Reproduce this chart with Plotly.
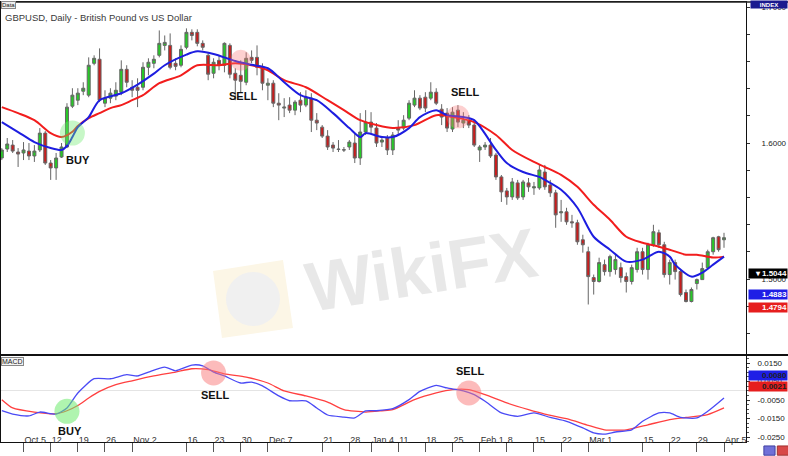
import plotly.graph_objects as go

# GBPUSD daily candles (Sep 29 .. Apr 5), oldest first
opens = [1.5890, 1.5956, 1.5985, 1.5934, 1.5927, 1.5941, 1.5905, 1.5949, 1.6073, 1.5853,
         1.5817, 1.5897, 1.5971, 1.6271, 1.6315, 1.6381, 1.6352, 1.6586, 1.6616, 1.6293,
         1.6330, 1.6345, 1.6374, 1.6542, 1.6410, 1.6410, 1.6410, 1.6557, 1.6586, 1.6645,
         1.6718, 1.6718, 1.6586, 1.6572, 1.6704, 1.6814, 1.6814, 1.6733, 1.6645, 1.6513,
         1.6608, 1.6572, 1.6718, 1.6513, 1.6498, 1.6447, 1.6630, 1.6630, 1.6557, 1.6425,
         1.6440, 1.6293, 1.6257, 1.6279, 1.6242, 1.6315, 1.6279, 1.6330, 1.6168, 1.6117,
         1.6051, 1.5985, 1.5956, 1.5951, 1.5971, 1.6000, 1.5890, 1.6081, 1.6154, 1.6110,
         1.6007, 1.6037, 1.5949, 1.6110, 1.6110, 1.6183, 1.6279, 1.6330, 1.6337, 1.6330,
         1.6374, 1.6249, 1.6220, 1.6103, 1.6242, 1.6147, 1.6168, 1.6132, 1.5949, 1.5971,
         1.5985, 1.5912, 1.5751, 1.5648, 1.5604, 1.5707, 1.5604, 1.5707, 1.5670, 1.5670,
         1.5787, 1.5692, 1.5634, 1.5487, 1.5494, 1.5421, 1.5414, 1.5289, 1.5201, 1.5011,
         1.4982, 1.5106, 1.5055, 1.5070, 1.5084, 1.5018, 1.4982, 1.5070, 1.5201, 1.5070,
         1.5252, 1.5340, 1.5252, 1.5033, 1.5121, 1.5055, 1.4901, 1.4835, 1.4967, 1.4996,
         1.5084, 1.5201, 1.5311, 1.5289]
highs = [1.5963, 1.6037, 1.6022, 1.5963, 1.6007, 1.6000, 1.5985, 1.6110, 1.6088, 1.5875,
         1.5927, 1.6000, 1.6293, 1.6403, 1.6403, 1.6447, 1.6630, 1.6645, 1.6696, 1.6388,
         1.6403, 1.6447, 1.6608, 1.6572, 1.6462, 1.6476, 1.6594, 1.6623, 1.6645, 1.6828,
         1.6791, 1.6806, 1.6623, 1.6718, 1.6843, 1.6836, 1.6836, 1.6755, 1.6667, 1.6623,
         1.6645, 1.6740, 1.6733, 1.6550, 1.6608, 1.6667, 1.6681, 1.6718, 1.6586, 1.6476,
         1.6462, 1.6366, 1.6330, 1.6337, 1.6315, 1.6374, 1.6388, 1.6366, 1.6220, 1.6132,
         1.6095, 1.6007, 1.6022, 1.5971, 1.6022, 1.6073, 1.6220, 1.6242, 1.6227, 1.6147,
         1.6044, 1.6059, 1.6081, 1.6168, 1.6205, 1.6315, 1.6388, 1.6352, 1.6374, 1.6447,
         1.6403, 1.6286, 1.6257, 1.6264, 1.6279, 1.6227, 1.6205, 1.6154, 1.5985, 1.6007,
         1.6037, 1.5927, 1.5765, 1.5670, 1.5743, 1.5729, 1.5729, 1.5743, 1.5714, 1.5839,
         1.5839, 1.5729, 1.5656, 1.5582, 1.5524, 1.5472, 1.5436, 1.5326, 1.5238, 1.5033,
         1.5157, 1.5143, 1.5179, 1.5179, 1.5121, 1.5048, 1.5106, 1.5230, 1.5230, 1.5267,
         1.5399, 1.5363, 1.5274, 1.5143, 1.5143, 1.5070, 1.4923, 1.4938, 1.5004, 1.5121,
         1.5216, 1.5311, 1.5318, 1.5340]
lows = [1.5875, 1.5934, 1.5927, 1.5824, 1.5875, 1.5875, 1.5861, 1.5934, 1.5839, 1.5729,
        1.5729, 1.5890, 1.5963, 1.6257, 1.6279, 1.6352, 1.6337, 1.6572, 1.6301, 1.6264,
        1.6293, 1.6315, 1.6352, 1.6410, 1.6337, 1.6264, 1.6388, 1.6498, 1.6550, 1.6630,
        1.6681, 1.6542, 1.6535, 1.6557, 1.6689, 1.6755, 1.6711, 1.6681, 1.6462, 1.6476,
        1.6535, 1.6520, 1.6476, 1.6315, 1.6374, 1.6425, 1.6586, 1.6498, 1.6388, 1.6315,
        1.6264, 1.6168, 1.6191, 1.6220, 1.6205, 1.6227, 1.6264, 1.6081, 1.6095, 1.6037,
        1.5949, 1.5934, 1.5934, 1.5934, 1.5949, 1.5853, 1.5839, 1.6059, 1.6073, 1.5971,
        1.5971, 1.5912, 1.5912, 1.6059, 1.6095, 1.6168, 1.6264, 1.6242, 1.6227, 1.6315,
        1.6279, 1.6132, 1.6081, 1.6081, 1.6117, 1.6110, 1.6110, 1.5971, 1.5861, 1.5949,
        1.5890, 1.5729, 1.5567, 1.5546, 1.5582, 1.5582, 1.5582, 1.5641, 1.5619, 1.5656,
        1.5656, 1.5604, 1.5377, 1.5421, 1.5399, 1.5377, 1.5252, 1.5194, 1.4813, 1.4886,
        1.4974, 1.5026, 1.5018, 1.5033, 1.4974, 1.4901, 1.4960, 1.5048, 1.5033, 1.4996,
        1.5238, 1.5230, 1.5011, 1.4960, 1.4996, 1.4872, 1.4828, 1.4828, 1.4923, 1.4996,
        1.5070, 1.5179, 1.5201, 1.5230]
closes = [1.5949, 1.5993, 1.5941, 1.5919, 1.5949, 1.5905, 1.5941, 1.6073, 1.5853, 1.5817,
          1.5890, 1.5971, 1.6264, 1.6352, 1.6367, 1.6403, 1.6572, 1.6623, 1.6315, 1.6330,
          1.6367, 1.6388, 1.6542, 1.6447, 1.6388, 1.6388, 1.6557, 1.6594, 1.6616, 1.6733,
          1.6740, 1.6557, 1.6564, 1.6689, 1.6814, 1.6791, 1.6733, 1.6704, 1.6506, 1.6594,
          1.6572, 1.6733, 1.6506, 1.6462, 1.6454, 1.6623, 1.6608, 1.6557, 1.6440, 1.6440,
          1.6293, 1.6279, 1.6264, 1.6242, 1.6301, 1.6279, 1.6337, 1.6168, 1.6147, 1.6051,
          1.5971, 1.5963, 1.5953, 1.5949, 1.6007, 1.5890, 1.6081, 1.6154, 1.6117, 1.6000,
          1.6022, 1.5949, 1.6059, 1.6095, 1.6168, 1.6293, 1.6330, 1.6257, 1.6257, 1.6374,
          1.6293, 1.6191, 1.6110, 1.6227, 1.6154, 1.6168, 1.6132, 1.5985, 1.5971, 1.5985,
          1.5905, 1.5751, 1.5641, 1.5604, 1.5714, 1.5597, 1.5714, 1.5678, 1.5678, 1.5802,
          1.5678, 1.5634, 1.5472, 1.5494, 1.5421, 1.5414, 1.5274, 1.5252, 1.5018, 1.4982,
          1.5121, 1.5055, 1.5165, 1.5143, 1.5011, 1.4982, 1.5084, 1.5201, 1.5070, 1.5252,
          1.5348, 1.5252, 1.5033, 1.5121, 1.5055, 1.4886, 1.4835, 1.4923, 1.4996, 1.5077,
          1.5201, 1.5304, 1.5216, 1.5304]

# moving averages (fast = blue, slow = red), sampled along the chart
ma_fast_day = [0, 3, 6, 9, 11, 12, 13, 14, 16, 18, 22, 25, 28, 30, 34, 36, 39, 43, 46, 49,
               52, 55, 58, 61, 64, 66, 67, 70, 72, 75, 77, 80, 82, 85, 87, 91, 93, 96, 99, 100,
               103, 106, 109, 112, 115, 118, 121, 123, 124, 127, 129, 131, 133]
ma_fast = [1.6154, 1.6081, 1.6007, 1.5963, 1.5949, 1.5978, 1.6044, 1.6117, 1.6191, 1.6315,
           1.6366, 1.6430, 1.6510, 1.6572, 1.6650, 1.6674, 1.6655, 1.6603, 1.6575, 1.6550,
           1.6447, 1.6352, 1.6315, 1.6220, 1.6110, 1.6044, 1.6073, 1.6044, 1.6044, 1.6110,
           1.6191, 1.6242, 1.6205, 1.6191, 1.6168, 1.5949, 1.5853, 1.5787, 1.5751, 1.5729,
           1.5656, 1.5524, 1.5311, 1.5216, 1.5128, 1.5143, 1.5201, 1.5165, 1.5106, 1.5018,
           1.5048, 1.5106, 1.5165]
ma_slow_day = [0, 3, 6, 9, 11, 13, 14, 16, 18, 20, 22, 24, 26, 29, 33, 36, 40, 43, 46, 49,
               52, 56, 60, 63, 66, 69, 72, 76, 80, 83, 87, 91, 94, 98, 100, 103, 106, 109, 112, 115,
               118, 121, 123, 126, 128, 131, 133]
ma_slow = [1.6264, 1.6220, 1.6168, 1.6073, 1.6044, 1.6083, 1.6125, 1.6183, 1.6220, 1.6257,
           1.6279, 1.6315, 1.6352, 1.6440, 1.6498, 1.6572, 1.6572, 1.6586, 1.6572, 1.6535,
           1.6462, 1.6410, 1.6315, 1.6242, 1.6168, 1.6132, 1.6110, 1.6132, 1.6205, 1.6191,
           1.6154, 1.6059, 1.5949, 1.5861, 1.5824, 1.5766, 1.5678, 1.5546, 1.5436, 1.5311,
           1.5267, 1.5238, 1.5216, 1.5179, 1.5179, 1.5158, 1.5165]

# MACD panel
macd_day = [0, 2, 5, 7, 10, 12, 14, 17, 20, 23, 25, 27, 30, 32, 35, 37, 39, 41, 44, 46,
            48, 51, 53, 56, 58, 60, 63, 65, 67, 69, 72, 75, 77, 80, 82, 85, 87, 89, 92, 95,
            98, 101, 104, 107, 109, 111, 113, 116, 118, 121, 123, 125, 128, 130, 133]
macd = [-0.0108, -0.0126, -0.0136, -0.0115, -0.0126, -0.0093, -0.0012, 0.0065, 0.0065, 0.0087,
        0.0080, 0.0101, 0.0128, 0.0108, 0.0139, 0.0135, 0.0101, 0.0080, 0.0042, 0.0047,
        0.0026, -0.0028, -0.0054, -0.0055, -0.0093, -0.0131, -0.0142, -0.0147, -0.0109, -0.0108,
        -0.0097, -0.0048, -0.0003, 0.0029, 0.0015, 0.0000, -0.0021, -0.0057, -0.0120, -0.0138,
        -0.0120, -0.0144, -0.0165, -0.0201, -0.0228, -0.0234, -0.0223, -0.0211, -0.0165, -0.0120,
        -0.0120, -0.0144, -0.0147, -0.0111, -0.0039]
signal_day = [0, 2, 6, 10, 12, 14, 16, 18, 21, 24, 28, 32, 35, 38, 41, 45, 49, 52, 56, 60,
              63, 67, 70, 72, 76, 80, 83, 86, 89, 93, 97, 100, 104, 108, 111, 115, 119, 123, 126, 130,
              133]
signal = [-0.0048, -0.0093, -0.0115, -0.0124, -0.0108, -0.0080, -0.0039, -0.0003, 0.0033, 0.0054,
          0.0080, 0.0101, 0.0119, 0.0114, 0.0091, 0.0074, 0.0042, -0.0001, -0.0028, -0.0061,
          -0.0102, -0.0115, -0.0108, -0.0102, -0.0048, -0.0012, 0.0006, 0.0006, -0.0021, -0.0066,
          -0.0102, -0.0126, -0.0151, -0.0187, -0.0211, -0.0211, -0.0184, -0.0156, -0.0144, -0.0129,
          -0.0093]

# crossover signals
price_signal_day = [13, 44, 84]
price_signal_val = [1.6073, 1.6608, 1.6193]
macd_signal_day = [12, 39, 86]
macd_signal_val = [-0.0111, 0.0096, -0.0012]
signal_names = ["BUY", "SELL", "SELL"]
price_label_day = [14, 44.5, 85.3]
price_label_val = [1.5875, 1.6345, 1.6376]
macd_label_day = [12.6, 39.3, 86.3]
macd_label_val = [-0.0218, -0.0021, 0.0108]

# axis labels
tick_days = [4, 9, 14, 19, 24, 34, 39, 44, 49, 59, 64, 68, 73, 78, 83, 88, 93, 98, 103,
             108, 118, 123, 128, 133]
tick_labels = ["Oct 5", "12", "19", "26", "Nov 2", "16", "23", "30", "Dec 7", "21", "28",
               "Jan 4", "11", "18", "25", "Feb 1", "8", "15", "22", "Mar 1", "15", "22",
               "29", "Apr 5"]
price_tickvals = [1.46, 1.48, 1.50, 1.52, 1.54, 1.56, 1.58, 1.60, 1.62, 1.64, 1.66, 1.68, 1.70]
price_ticktext = ["", "", "1.5000", "", "", "", "", "1.6000", "", "", "", "", "1.7000"]
macd_tickvals = [0.015, 0.005, -0.005, -0.015, -0.025]
macd_ticktext = ["0.0150", "0.0050", "-0.0050", "-0.0150", "-0.0250"]

# value boxes on the right scale
price_box_vals = [1.5044, 1.4883, 1.4794]
price_box_text = ["\u25be 1.5044", "1.4883", "1.4794"]
price_box_colors = ["#000000", "#1e1ee6", "#e61e1e"]
macd_box_vals = [0.0080, 0.0021]
macd_box_text = ["0.0080", "0.0021"]
macd_box_colors = ["#1e1ee6", "#e61e1e"]

days = list(range(len(closes)))
FONT = "Liberation Sans, Arial, sans-serif"

fig = go.Figure()

fig.add_trace(go.Candlestick(
    x=days, open=opens, high=highs, low=lows, close=closes,
    increasing=dict(fillcolor="#27c927", line=dict(color="#666666", width=1)),
    decreasing=dict(fillcolor="#c81d1d", line=dict(color="#666666", width=1)),
    whiskerwidth=0, xaxis="x", yaxis="y", hoverinfo="skip",
))
fig.add_trace(go.Scatter(x=ma_slow_day, y=ma_slow, mode="lines", xaxis="x", yaxis="y",
                         line=dict(color="#f21d1d", width=2, shape="spline", smoothing=0.8)))
fig.add_trace(go.Scatter(x=ma_fast_day, y=ma_fast, mode="lines", xaxis="x", yaxis="y",
                         line=dict(color="#1d1de0", width=2, shape="spline", smoothing=0.8)))

# MACD lines
fig.add_trace(go.Scatter(x=signal_day, y=signal, mode="lines", xaxis="x2", yaxis="y2",
                         line=dict(color="#ff4040", width=1.3, shape="spline", smoothing=0.6)))
fig.add_trace(go.Scatter(x=macd_day, y=macd, mode="lines", xaxis="x2", yaxis="y2",
                         line=dict(color="#4a4af5", width=1.3, shape="spline", smoothing=0.6)))

# highlight circles
circle_colors = ["rgba(110,235,110,0.55)", "rgba(250,120,120,0.5)", "rgba(250,120,120,0.5)"]
fig.add_trace(go.Scatter(x=price_signal_day, y=price_signal_val, mode="markers", xaxis="x", yaxis="y",
                         marker=dict(size=[25, 21, 23], color=circle_colors, line=dict(width=0))))
fig.add_trace(go.Scatter(x=macd_signal_day, y=macd_signal_val, mode="markers", xaxis="x2", yaxis="y2",
                         marker=dict(size=25, color=circle_colors, line=dict(width=0))))

annotations = []
for d, v, name in zip(price_label_day, price_label_val, signal_names):
    annotations.append(dict(x=d, y=v, xref="x", yref="y", text="<b>%s</b>" % name, showarrow=False,
                            font=dict(family=FONT, size=11, color="#111111")))
for d, v, name in zip(macd_label_day, macd_label_val, signal_names):
    annotations.append(dict(x=d, y=v, xref="x2", yref="y2", text="<b>%s</b>" % name, showarrow=False,
                            font=dict(family=FONT, size=11, color="#111111")))

for v, t, c in zip(price_box_vals, price_box_text, price_box_colors):
    annotations.append(dict(x=1, y=v, xref="paper", yref="y", xanchor="left", xshift=2, text="<b>%s</b>" % t,
                            showarrow=False, bgcolor=c, width=38, height=9, align="right", borderpad=0,
                            font=dict(family=FONT, size=8, color="white")))
for v, t, c in zip(macd_box_vals, macd_box_text, macd_box_colors):
    annotations.append(dict(x=1, y=v, xref="paper", yref="y2", xanchor="left", xshift=2, text="<b>%s</b>" % t,
                            showarrow=False, bgcolor=c, width=38, height=9, align="right", borderpad=0,
                            font=dict(family=FONT, size=8, color="#202020")))

# panel titles and badges
annotations += [
    dict(x=0, y=1, xref="paper", yref="paper", xanchor="left", yanchor="top", xshift=2, yshift=-8,
         text="GBPUSD, Daily - British Pound vs US Dollar", showarrow=False,
         font=dict(family=FONT, size=9.5, color="#3a3a3a")),
    dict(x=0, y=1, xref="paper", yref="paper", xanchor="left", yanchor="top", yshift=1,
         text="Data", showarrow=False, bgcolor="#eeeeee", bordercolor="#888888", borderwidth=1, borderpad=0,
         font=dict(family=FONT, size=6, color="#222222")),
    dict(x=0, y=0.1955, xref="paper", yref="paper", xanchor="left", yanchor="top", yshift=-1,
         text="MACD", showarrow=False, bgcolor="#f2f2f2", bordercolor="#888888", borderwidth=1, borderpad=0,
         font=dict(family=FONT, size=7, color="#222222")),
    dict(x=1, y=1, xref="paper", yref="paper", xanchor="left", yanchor="top", xshift=4, yshift=2,
         text="<b>INDEX</b>", showarrow=False, bgcolor="#1a1a8f", width=36, height=7, borderpad=0,
         font=dict(family=FONT, size=6, color="white")),
    # watermark
    dict(x=0.565, y=0.39, xref="paper", yref="paper", text="<b>WikiFX</b>", showarrow=False,
         textangle=-9, font=dict(family=FONT, size=70, color="rgba(205,205,205,0.45)")),
]

shapes = [
    # watermark logo
    dict(type="path", xref="paper", yref="paper", layer="below",
         path="M 0.2846 0.3886 L 0.3785 0.4136 L 0.3919 0.2591 L 0.2966 0.2364 Z",
         fillcolor="#fcf6e6", line=dict(width=0)),
    dict(type="circle", xref="paper", yref="paper", layer="below",
         x0=0.302, x1=0.3745, y0=0.2636, y1=0.3864, fillcolor="#f0f0f0", line=dict(width=0)),
    # frame lines running into the right scale
    dict(type="line", xref="paper", yref="paper", x0=0, x1=1.06, y0=1, y1=1,
         line=dict(color="#222222", width=1.5)),
    dict(type="line", xref="paper", yref="paper", x0=0, x1=1.06, y0=0.1978, y1=0.1978,
         line=dict(color="#111111", width=2)),
    # toolbar icons
    dict(type="rect", xref="paper", yref="paper", x0=1.024, x1=1.039, y0=-0.030, y1=-0.009,
         fillcolor="#7070d8", line=dict(color="#4040a0", width=1)),
    dict(type="rect", xref="paper", yref="paper", x0=1.042, x1=1.057, y0=-0.030, y1=-0.009,
         fillcolor="#d84848", line=dict(color="#a03030", width=1)),
]

axis_common = dict(showgrid=False, showline=True, mirror=True, linecolor="#111111", linewidth=1)

fig.update_layout(
    width=788, height=456,
    margin=dict(l=1, r=42, t=2, b=14),
    paper_bgcolor="white", plot_bgcolor="white",
    showlegend=False,
    boxgap=0.22,
    font=dict(family=FONT, size=8, color="#222222"),
    xaxis=dict(domain=[0, 1], anchor="y", range=[-0.15, 137.05], showticklabels=False, ticks="",
               zeroline=False, rangeslider=dict(visible=False), **axis_common),
    yaxis=dict(domain=[0.2, 1], anchor="x", side="right", range=[1.4449, 1.7037],
               tickmode="array", tickvals=price_tickvals, ticktext=price_ticktext,
               ticks="outside", ticklen=3, tickcolor="#333333", ticklabelstandoff=10,
               tickfont=dict(family=FONT, size=8, color="#222222"), zeroline=False, **axis_common),
    xaxis2=dict(domain=[0, 1], anchor="y2", range=[-0.15, 137.05], tickmode="array",
                tickvals=tick_days, ticktext=tick_labels, ticks="outside", ticklen=9, tickangle=0,
                tickcolor="#555555", ticklabelposition="outside right", ticklabelstandoff=-11,
                tickfont=dict(family=FONT, size=9, color="#333333"), zeroline=False, **axis_common),
    yaxis2=dict(domain=[0, 0.1955], anchor="x2", side="right", range=[-0.0277, 0.0188],
                tickmode="array", tickvals=macd_tickvals, ticktext=macd_ticktext,
                ticks="outside", ticklen=3, tickcolor="#333333", ticklabelstandoff=6,
                minor=dict(ticks="outside", ticklen=2, dtick=0.0025, tickcolor="#555555"),
                tickfont=dict(family=FONT, size=8, color="#222222"),
                zeroline=True, zerolinecolor="#e4e4e4", zerolinewidth=1, **axis_common),
    annotations=annotations,
    shapes=shapes,
)

# the page's default body margin would shift the figure; remove it
fig.write_html("out.html", config={"displayModeBar": False},
               post_script="document.body.style.margin='0';document.body.style.overflow='hidden';")
